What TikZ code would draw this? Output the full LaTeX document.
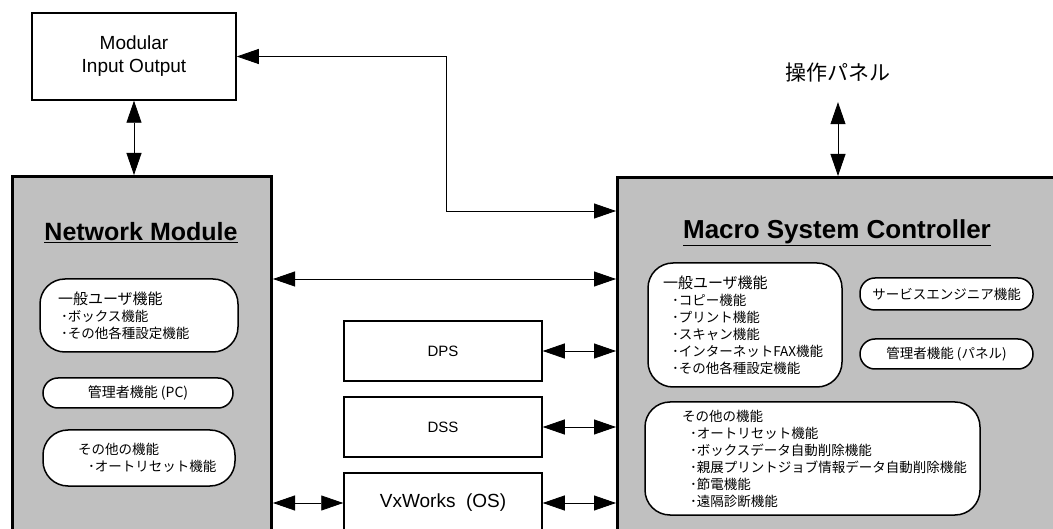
\documentclass[tikz,border=0pt]{standalone}
\usepackage{fontspec}
\setmainfont{Liberation Sans}
\newfontfamily\jp{Noto Sans CJK JP}
\usepackage{tikz}
\usetikzlibrary{positioning,arrows.meta}
\definecolor{boxgray}{RGB}{192,192,192}

\begin{document}
\begin{tikzpicture}[x=1pt,y=-1pt,
  box/.style={draw,line width=1.5pt,fill=white,inner sep=0pt,font=\fontsize{15}{23}\selectfont,align=center},
  bigbox/.style={draw,line width=3pt,fill=boxgray,inner sep=0pt,anchor=north west},
  pill/.style={draw,line width=1.5pt,fill=white,rounded corners=#1,inner sep=0pt,font=\jp\fontsize{13.5}{17}\selectfont},
  pill/.default=15pt,
  title/.style={font=\bfseries\fontsize{25}{25}\selectfont},
  biarrow/.style={{Triangle[length=22pt,width=15pt]}-{Triangle[length=22pt,width=15pt]},line width=0.8pt}]
\path[use as bounding box,clip] (0,0) rectangle (1053,529);

% outer blocks
\node[box,minimum width=204,minimum height=87,font=\fontsize{19}{23}\selectfont] (mio) at (134,56.5) {Modular\\Input Output};
\node[bigbox,minimum width=259,minimum height=420] (nm) at (11,175) {};
\node[bigbox,minimum width=480,minimum height=400] (msc) at (616,176) {};
\node[font=\jp\fontsize{21}{21}\selectfont] (panel) at (838,73) {操作パネル};
\node[title] (nmtitle) at (141,233) {\underline{Network Module}};
\node[title,font=\bfseries\fontsize{26}{26}\selectfont] (msctitle) at (837,233) {\underline{Macro System Controller}};

% middle blocks
\node[box,minimum width=198,minimum height=60] (dps) at (443,351) {DPS};
\node[box,minimum width=198,minimum height=60] (dss) at (443,427) {DSS};
\node[box,minimum width=198,minimum height=60,font=\fontsize{19}{23}\selectfont] (vx) at (443,503) {VxWorks\ \ (OS)};

% network module functions
\node[pill=25pt,minimum height=73,text width=162,inner xsep=18,align=left] (nmuser) at (139,315.5)
  {{\fontsize{15}{17}\selectfont 一般ユーザ機能}\\
   \hspace*{3pt}･ボックス機能\\
   \hspace*{3pt}･その他各種設定機能};
\node[pill,minimum width=190,minimum height=30,font=\jp\fontsize{14}{17}\selectfont] (nmadmin) at (138,393) {管理者機能 (PC)};
\node[pill=25pt,minimum height=56,text width=122,inner xsep=35,align=left] (nmother) at (139,458)
  {その他の機能\\
   \hspace*{10pt}･オートリセット機能};

% controller functions
\node[pill=25pt,minimum height=124,text width=164,inner xsep=15,align=left] (mscuser) at (745,325)
  {{\fontsize{15}{17}\selectfont 一般ユーザ機能}\\
   \hspace*{9pt}･コピー機能\\
   \hspace*{9pt}･プリント機能\\
   \hspace*{9pt}･スキャン機能\\
   \hspace*{9pt}･インターネットFAX機能\\
   \hspace*{9pt}･その他各種設定機能};
\node[pill,minimum width=173,minimum height=32] (service) at (946.5,294) {サービスエンジニア機能};
\node[pill,minimum width=173,minimum height=30] (mscadmin) at (946.5,354) {管理者機能 (パネル)};
\node[pill=25pt,minimum height=113,text width=261,inner xsep=37,align=left] (mscother) at (812.5,458.5)
  {その他の機能\\
   \hspace*{8pt}･オートリセット機能\\
   \hspace*{8pt}･ボックスデータ自動削除機能\\
   \hspace*{8pt}･親展プリントジョブ情報データ自動削除機能\\
   \hspace*{8pt}･節電機能\\
   \hspace*{8pt}･遠隔診断機能};

% links
\coordinate (bend) at (446,211);
\draw[biarrow] (mio.south) -- (mio.south |- nm.north);
\draw[biarrow] ([yshift=-16pt]panel.south) -- (panel.south |- msc.north);
\draw[biarrow] (mio.east) -| (bend) -- (bend -| msc.west);
\draw[biarrow] (nm.east |- 0,279) -- (msc.west |- 0,279);
\draw[biarrow] (dps.east) -- (dps.east -| msc.west);
\draw[biarrow] (dss.east) -- (dss.east -| msc.west);
\draw[biarrow] (vx.east) -- (vx.east -| msc.west);
\draw[biarrow] (vx.west -| nm.east) -- (vx.west);
\end{tikzpicture}
\end{document}
